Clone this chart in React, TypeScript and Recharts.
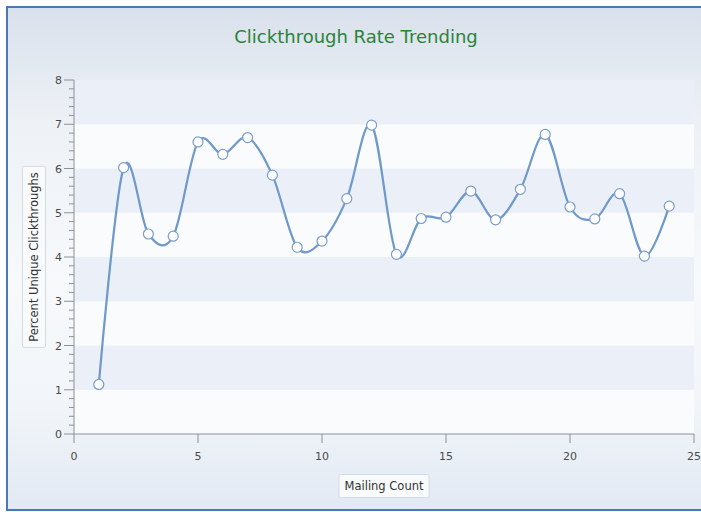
import { LineChart, Line, XAxis, YAxis, ReferenceArea } from "recharts";

// Mailing number and percent of unique clickthroughs
const mailingCount = [1, 2, 3, 4, 5, 6, 7, 8, 9, 10, 11, 12, 13, 14, 15, 16, 17, 18, 19, 20, 21, 22, 23, 24];
const clickRate = [1.12, 6.02, 4.52, 4.47, 6.6, 6.32, 6.7, 5.85, 4.22, 4.36, 5.32, 6.98, 4.06, 4.87, 4.9, 5.49, 4.84, 5.53, 6.77, 5.13, 4.86, 5.43, 4.02, 5.15];

const xTicks = [0, 5, 10, 15, 20, 25];
const yMajorTicks = [0, 1, 2, 3, 4, 5, 6, 7, 8];
const minorPerMajor = 5;

const data = mailingCount.map((m, i) => ({ mailing: m, rate: clickRate[i] }));

// major ticks plus the minor ones in between
const yTicks: number[] = [];
yMajorTicks.forEach((t, i) => {
  yTicks.push(t);
  if (i < yMajorTicks.length - 1) {
    for (let k = 1; k < minorPerMajor; k++) {
      yTicks.push(Math.round((t + k / minorPerMajor) * 100) / 100);
    }
  }
});

// alternating horizontal bands, one per unit
const bands = yMajorTicks.slice(0, -1).map((t, i) => ({ from: t, to: yMajorTicks[i + 1] }));

// catmull-rom style cardinal curve (tension 0), like the original chart
function cardinalPoint(that: any, x: number, y: number) {
  that._context.bezierCurveTo(
    that._x1 + that._k * (that._x2 - that._x0),
    that._y1 + that._k * (that._y2 - that._y0),
    that._x2 + that._k * (that._x1 - x),
    that._y2 + that._k * (that._y1 - y),
    that._x2,
    that._y2
  );
}

function cardinalCurve(context: any): any {
  return {
    _context: context,
    _k: 1 / 6,
    _line: NaN,
    _point: 0,
    _x0: NaN, _x1: NaN, _x2: NaN, _y0: NaN, _y1: NaN, _y2: NaN,
    areaStart() { this._line = 0; },
    areaEnd() { this._line = NaN; },
    lineStart() {
      this._x0 = this._x1 = this._x2 = this._y0 = this._y1 = this._y2 = NaN;
      this._point = 0;
    },
    lineEnd() {
      switch (this._point) {
        case 2: this._context.lineTo(this._x2, this._y2); break;
        case 3: cardinalPoint(this, this._x1, this._y1); break;
      }
      if (this._line || (this._line !== 0 && this._point === 1)) this._context.closePath();
      this._line = 1 - this._line;
    },
    point(x: number, y: number) {
      x = +x; y = +y;
      switch (this._point) {
        case 0:
          this._point = 1;
          if (this._line) this._context.lineTo(x, y); else this._context.moveTo(x, y);
          break;
        case 1: this._point = 2; this._x1 = x; this._y1 = y; break;
        case 2: this._point = 3; cardinalPoint(this, x, y); break;
        default: cardinalPoint(this, x, y); break;
      }
      this._x0 = this._x1; this._x1 = this._x2; this._x2 = x;
      this._y0 = this._y1; this._y1 = this._y2; this._y2 = y;
    },
  };
}

const font = "'DejaVu Sans', Verdana, sans-serif";

const YTick = (props: any) => {
  const { x, y, payload } = props;
  const v = payload.value;
  const major = Math.abs(v - Math.round(v)) < 1e-6;
  return (
    <g>
      <line x1={x - (major ? 10 : 5)} x2={x} y1={y} y2={y} stroke="#8c9199" strokeWidth={1} />
      {major && (
        <text x={x - 12} y={y} dy={4} textAnchor="end" fontSize={11} fill="#4a4a4a" fontFamily={font}>
          {Math.round(v)}
        </text>
      )}
    </g>
  );
};

const XTick = (props: any) => {
  const { x, y, payload } = props;
  return (
    <g>
      <line x1={x} x2={x} y1={y} y2={y + 9} stroke="#8c9199" strokeWidth={1} />
      <text x={x} y={y + 26} textAnchor="middle" fontSize={11} fill="#4a4a4a" fontFamily={font}>
        {payload.value}
      </text>
    </g>
  );
};

const labelBox = {
  position: "absolute" as const,
  padding: "4px 5px",
  border: "1px solid #d3dbe4",
  borderRadius: 2,
  background: "#f8fafc",
  fontSize: 11.5,
  color: "#333",
  whiteSpace: "nowrap" as const,
};

export default function App() {
  return (
    <div
      style={{
        position: "absolute",
        left: 0,
        top: 0,
        width: 701,
        height: 512,
        overflow: "hidden",
        background: "#ffffff",
        fontFamily: font,
      }}
    >
      <div
        style={{
          position: "absolute",
          left: 6,
          top: 6,
          width: 700,
          height: 501,
          border: "2px solid #4a78b2",
          background: "linear-gradient(180deg, #d9e1ec 0%, #edf1f6 22%, #f7f9fb 55%, #f1f5f9 80%, #e2e9f3 100%)",
        }}
      />
      <div
        style={{
          position: "absolute",
          left: 0,
          width: 712,
          top: 26,
          textAlign: "center",
          fontSize: 18,
          color: "#2a8438",
        }}
      >
        Clickthrough Rate Trending
      </div>
      <div style={{ ...labelBox, left: 384, top: 486, transform: "translate(-50%, -50%)" }}>
        Mailing Count
      </div>
      <div style={{ ...labelBox, left: 34, top: 257, transform: "translate(-50%, -50%) rotate(-90deg)" }}>
        Percent Unique Clickthroughs
      </div>
      <div style={{ position: "absolute", left: 0, top: 0 }}>
        <LineChart width={701} height={512} data={data} margin={{ top: 80, right: 7, bottom: 0, left: 0 }}>
          {bands.map((b, i) => (
            <ReferenceArea
              key={i}
              y1={b.from}
              y2={b.to}
              fill={i % 2 === 0 ? "#fafbfd" : "#ebf0f8"}
              fillOpacity={1}
              stroke="none"
            />
          ))}
          <XAxis
            dataKey="mailing"
            type="number"
            domain={[0, 25]}
            ticks={xTicks}
            interval={0}
            height={78}
            axisLine={{ stroke: "#8c9199" }}
            tickLine={false}
            tickSize={0}
            tickMargin={0}
            tick={<XTick />}
          />
          <YAxis
            type="number"
            domain={[0, 8]}
            ticks={yTicks}
            interval={0}
            width={74}
            axisLine={{ stroke: "#8c9199" }}
            tickLine={false}
            tickSize={0}
            tickMargin={0}
            tick={<YTick />}
          />
          <Line
            dataKey="rate"
            type={cardinalCurve as any}
            stroke="#6f98cb"
            strokeWidth={2.2}
            dot={{ r: 5, fill: "#ffffff", stroke: "#7a9dc9", strokeWidth: 1.2 }}
            isAnimationActive={false}
          />
        </LineChart>
      </div>
    </div>
  );
}
